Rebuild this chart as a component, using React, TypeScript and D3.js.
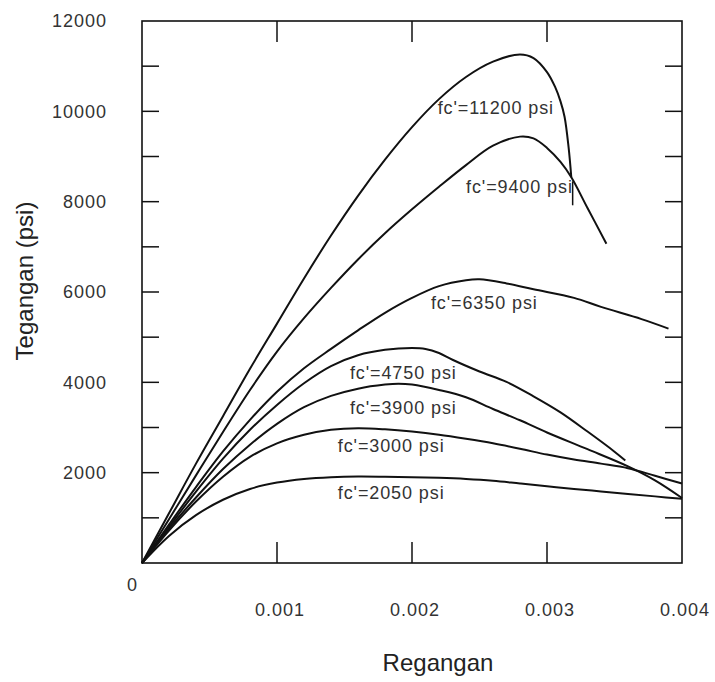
import React from "react";
import * as d3 from "d3";

// ---- data (strain, stress in psi) ----
const grid21 = [0, 0.0002, 0.0004, 0.0006, 0.0008, 0.001, 0.0012, 0.0014, 0.0016, 0.0018, 0.002, 0.0022, 0.0024, 0.0026, 0.0028, 0.003, 0.0032, 0.0034, 0.0036, 0.0038, 0.004];

const strain11200 = [0, 0.0002, 0.0004, 0.0006, 0.0008, 0.001, 0.0012, 0.0014, 0.0016, 0.0018, 0.002, 0.0022, 0.0024, 0.0026, 0.0028, 0.0029, 0.003, 0.00306, 0.0031, 0.00313, 0.00316, 0.00318];
const stress11200 = [0, 1100, 2200, 3250, 4300, 5300, 6300, 7250, 8130, 8930, 9650, 10270, 10760, 11100, 11260, 11180, 10870, 10540, 10220, 9880, 9200, 8540];

const strain9400 = [0, 0.0002, 0.0004, 0.0006, 0.0008, 0.001, 0.0012, 0.0014, 0.0016, 0.0018, 0.002, 0.0022, 0.0024, 0.0026, 0.0028, 0.0029, 0.003, 0.0031, 0.00318, 0.0033, 0.00344];
const stress9400 = [0, 970, 1940, 2900, 3830, 4680, 5420, 6090, 6720, 7300, 7830, 8330, 8810, 9240, 9440, 9400, 9190, 8880, 8540, 7860, 7070];

const strain6350 = [0, 0.0002, 0.0004, 0.0006, 0.0008, 0.001, 0.0012, 0.0014, 0.0016, 0.0018, 0.002, 0.0022, 0.0024, 0.0025, 0.0027, 0.0029, 0.0032, 0.0034, 0.0037, 0.0039];
const stress6350 = [0, 850, 1680, 2470, 3170, 3790, 4310, 4740, 5150, 5540, 5870, 6130, 6260, 6280, 6190, 6060, 5870, 5670, 5400, 5190];

const strain4750 = [0, 0.0002, 0.0004, 0.0006, 0.0008, 0.001, 0.0012, 0.0014, 0.0016, 0.0018, 0.002, 0.0021, 0.0022, 0.0023, 0.0025, 0.0027, 0.0029, 0.0031, 0.0033, 0.0035, 0.00358];
const stress4750 = [0, 800, 1580, 2310, 2950, 3500, 3980, 4360, 4600, 4720, 4760, 4740, 4650, 4500, 4240, 4010, 3690, 3335, 2910, 2465, 2270];

const strain3900 = [0, 0.0002, 0.0004, 0.0006, 0.0008, 0.001, 0.0012, 0.0014, 0.0016, 0.0018, 0.0019, 0.002, 0.0022, 0.0024, 0.0026, 0.0028, 0.003, 0.0033, 0.0036, 0.0038, 0.004];
const stress3900 = [0, 760, 1450, 2080, 2620, 3080, 3450, 3700, 3860, 3950, 3970, 3950, 3830, 3670, 3410, 3160, 2890, 2520, 2140, 1830, 1440];

const strain3000 = grid21;
const stress3000 = [0, 720, 1360, 1910, 2350, 2650, 2840, 2950, 2985, 2960, 2910, 2840, 2750, 2650, 2530, 2400, 2290, 2200, 2100, 1930, 1760];

const strain2050 = grid21;
const stress2050 = [0, 600, 1060, 1400, 1640, 1780, 1860, 1900, 1915, 1910, 1900, 1885, 1860, 1820, 1760, 1700, 1640, 1585, 1530, 1475, 1420];

const seriesNames = ["fc'=11200 psi", "fc'=9400 psi", "fc'=6350 psi", "fc'=4750 psi", "fc'=3900 psi", "fc'=3000 psi", "fc'=2050 psi"];
const seriesStrains = [strain11200, strain9400, strain6350, strain4750, strain3900, strain3000, strain2050];
const seriesStresses = [stress11200, stress9400, stress6350, stress4750, stress3900, stress3000, stress2050];

// label anchors (left edge / baseline) in data units
const labelStrain = [0.00219, 0.0024, 0.00214, 0.00154, 0.00154, 0.00145, 0.00145];
const labelStress = [9940, 8190, 5630, 4080, 3300, 2460, 1420];

// failure marker on the 9400 curve
const markerStrain = [0.00319, 0.00319];
const markerStress = [8450, 7920];

const xTicks = [0.001, 0.002, 0.003, 0.004];
const xTickLabels = ["0.001", "0.002", "0.003", "0.004"];
const yMajorTicks = [2000, 4000, 6000, 8000, 10000, 12000];
const yTickLabels = ["2000", "4000", "6000", "8000", "10000", "12000"];
const yMinorTicks = [1000, 2000, 3000, 4000, 5000, 6000, 7000, 8000, 9000, 10000, 11000];

const W = 715;
const H = 682;
const left = 142, right = 682, top = 21, bottom = 563;

export default function App() {
  const x = d3.scaleLinear().domain([0, 0.004]).range([left, right]);
  const y = d3.scaleLinear().domain([0, 12000]).range([bottom, top]);

  const line = d3
    .line<[number, number]>()
    .x((d) => x(d[0]))
    .y((d) => y(d[1]))
    .curve(d3.curveCatmullRom.alpha(0.5));

  const font = "'Liberation Sans', Arial, Helvetica, sans-serif";
  const tickLen = 17;
  const xTickLen = 21;
  const ink = "#111";

  return (
    <svg
      width={W}
      height={H}
      viewBox={`0 0 ${W} ${H}`}
      style={{ position: "absolute", left: 0, top: 0, background: "#fff" }}
    >
      <rect x={0} y={0} width={W} height={H} fill="#fff" />
      {/* frame */}
      <rect x={left} y={top} width={right - left} height={bottom - top} fill="none" stroke={ink} strokeWidth={1.6} />

      {/* y ticks, left and right, inward */}
      {yMinorTicks.map((v) => (
        <g key={"yt" + v}>
          <line x1={left} x2={left + tickLen} y1={y(v)} y2={y(v)} stroke={ink} strokeWidth={1.5} />
          <line x1={right} x2={right - tickLen} y1={y(v)} y2={y(v)} stroke={ink} strokeWidth={1.5} />
        </g>
      ))}
      {/* x ticks, bottom and top, inward */}
      {xTicks.slice(0, 3).map((v) => (
        <g key={"xt" + v}>
          <line x1={x(v)} x2={x(v)} y1={bottom} y2={bottom - xTickLen} stroke={ink} strokeWidth={1.5} />
          <line x1={x(v)} x2={x(v)} y1={top} y2={top + xTickLen} stroke={ink} strokeWidth={1.5} />
        </g>
      ))}

      {/* y tick labels */}
      {yMajorTicks.map((v, i) => (
        <text
          key={"yl" + v}
          x={107}
          y={y(v)}
          dy="0.36em"
          textAnchor="end"
          fontFamily={font}
          fontSize={18}
          letterSpacing={1}
          fill="#333"
        >
          {yTickLabels[i]}
        </text>
      ))}
      {/* origin label */}
      <text x={x(0) - 10} y={y(0) + 28} textAnchor="middle" fontFamily={font} fontSize={18} fill="#333">
        0
      </text>
      {/* x tick labels */}
      {xTicks.map((v, i) => (
        <text
          key={"xl" + v}
          x={x(v) + 3}
          y={bottom + 53}
          textAnchor="middle"
          fontFamily={font}
          fontSize={18}
          letterSpacing={1}
          fill="#333"
        >
          {xTickLabels[i]}
        </text>
      ))}

      {/* axis titles */}
      <text
        transform={`translate(33, ${(200 + 362) / 2}) rotate(-90)`}
        textAnchor="middle"
        fontFamily={font}
        fontSize={24}
        fill="#222"
      >
        Tegangan (psi)
      </text>
      <text x={438} y={671} textAnchor="middle" fontFamily={font} fontSize={24} fill="#222">
        Regangan
      </text>

      {/* curves */}
      {seriesNames.map((name, i) => {
        const pts: [number, number][] = seriesStrains[i].map((e, j) => [e, seriesStresses[i][j]]);
        return (
          <path key={name} d={line(pts) || ""} fill="none" stroke={ink} strokeWidth={2} strokeLinejoin="round" />
        );
      })}
      <line
        x1={x(markerStrain[0])}
        x2={x(markerStrain[1])}
        y1={y(markerStress[0])}
        y2={y(markerStress[1])}
        stroke={ink}
        strokeWidth={1.5}
      />

      {/* curve labels */}
      {seriesNames.map((name, i) => (
        <text
          key={"lab" + name}
          x={x(labelStrain[i])}
          y={y(labelStress[i])}
          fontFamily={font}
          fontSize={18}
          letterSpacing={0.9}
          fill="#333"
        >
          {name}
        </text>
      ))}
    </svg>
  );
}
